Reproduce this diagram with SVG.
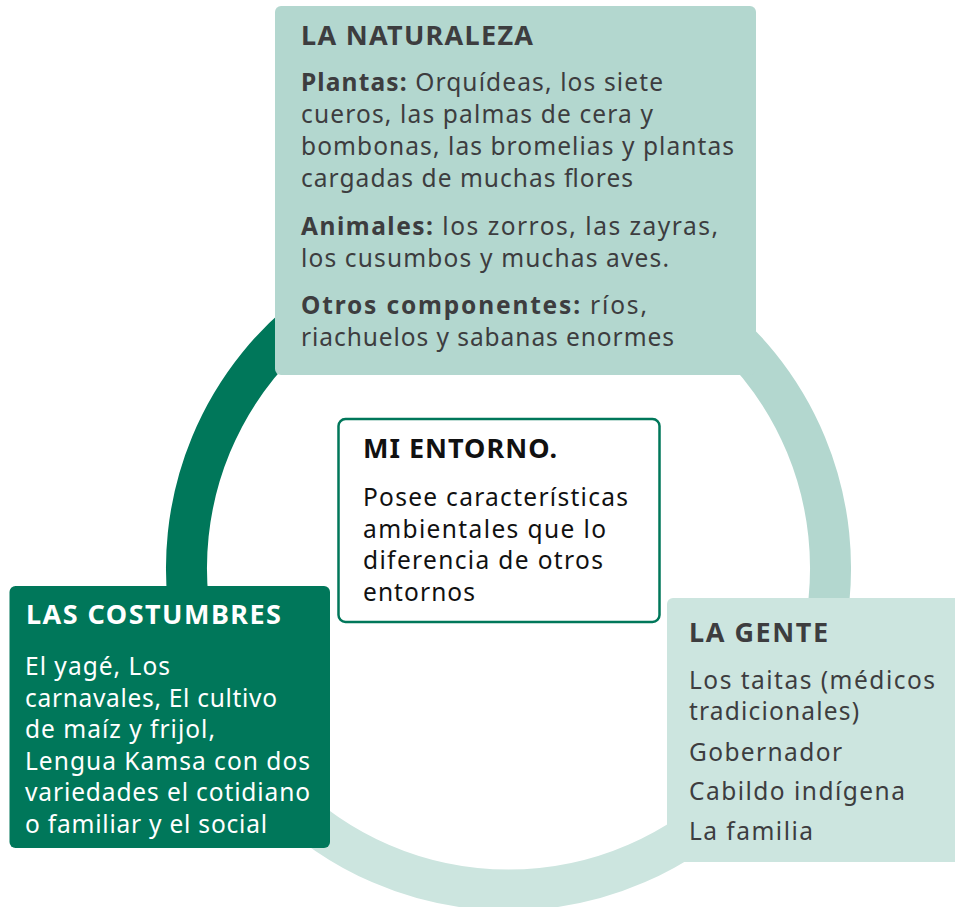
<svg xmlns="http://www.w3.org/2000/svg" width="955" height="907" viewBox="0 0 955 907">
<style>
.ring{fill:none;stroke-width:41}
.t{font-family:"Noto Sans","Open Sans","DejaVu Sans",sans-serif;font-size:24.5px}
.h{font-family:"Noto Sans","Open Sans","DejaVu Sans",sans-serif;font-size:27px;font-weight:bold}
.b{font-weight:bold}
.gray{fill:#3d3d3f}
.blk{fill:#111111}
.wht{fill:#ffffff}
</style>
<rect width="955" height="907" fill="#ffffff"/>
<g id="connectors">
<path class="ring" stroke="#b3d7cf" d="M508.5,246 A322,322 0 0 1 736.2,795.7"/>
<path class="ring" stroke="#cce5df" d="M736.2,795.7 A322,322 0 0 1 280.8,795.7"/>
<path class="ring" stroke="#00775a" d="M280.8,795.7 A322,322 0 0 1 508.5,246"/>
</g>
<g id="naturaleza">
<rect x="275" y="6" width="481" height="369" rx="6" fill="#b3d7cf"/>
<text class="h gray" x="301" y="45" textLength="232" lengthAdjust="spacing">LA NATURALEZA</text>
<text class="t gray" x="301" y="91" textLength="362" lengthAdjust="spacing"><tspan class="b">Plantas:</tspan> Orquídeas, los siete</text>
<text class="t gray" x="301" y="123" textLength="352" lengthAdjust="spacing">cueros, las palmas de cera y</text>
<text class="t gray" x="301" y="155" textLength="433" lengthAdjust="spacing">bombonas, las bromelias y plantas</text>
<text class="t gray" x="301" y="187" textLength="332" lengthAdjust="spacing">cargadas de muchas flores</text>
<text class="t gray" x="301" y="235" textLength="417" lengthAdjust="spacing"><tspan class="b">Animales:</tspan> los zorros, las zayras,</text>
<text class="t gray" x="301" y="267" textLength="368" lengthAdjust="spacing">los cusumbos y muchas aves.</text>
<text class="t gray" x="301" y="314" textLength="346" lengthAdjust="spacing"><tspan class="b">Otros componentes:</tspan> ríos,</text>
<text class="t gray" x="301" y="346" textLength="373" lengthAdjust="spacing">riachuelos y sabanas enormes</text>
</g>
<g id="entorno">
<rect x="338.5" y="419" width="321" height="203" rx="7" fill="#ffffff" stroke="#00775a" stroke-width="2.5"/>
<text class="h blk" x="363" y="458" textLength="194" lengthAdjust="spacing">MI ENTORNO.</text>
<text class="t blk" x="363" y="506" textLength="265" lengthAdjust="spacing">Posee características</text>
<text class="t blk" x="363" y="537.5" textLength="243" lengthAdjust="spacing">ambientales que lo</text>
<text class="t blk" x="363" y="569" textLength="240" lengthAdjust="spacing">diferencia de otros</text>
<text class="t blk" x="363" y="600.5" textLength="112" lengthAdjust="spacing">entornos</text>
</g>
<g id="costumbres">
<rect x="9.5" y="586" width="320.5" height="262" rx="6" fill="#00775a"/>
<text class="h wht" x="26" y="624" textLength="255" lengthAdjust="spacing">LAS COSTUMBRES</text>
<text class="t wht" x="25" y="675" textLength="145" lengthAdjust="spacing">El yagé, Los</text>
<text class="t wht" x="25" y="706.5" textLength="252" lengthAdjust="spacing">carnavales, El cultivo</text>
<text class="t wht" x="25" y="738" textLength="190" lengthAdjust="spacing">de maíz y frijol,</text>
<text class="t wht" x="25" y="769.5" textLength="285" lengthAdjust="spacing">Lengua Kamsa con dos</text>
<text class="t wht" x="25" y="801" textLength="285" lengthAdjust="spacing">variedades el cotidiano</text>
<text class="t wht" x="25" y="832.5" textLength="242" lengthAdjust="spacing">o familiar y el social</text>
</g>
<g id="gente">
<rect x="667" y="598" width="300" height="264" rx="6" fill="#cce5df"/>
<text class="h gray" x="689" y="642" textLength="139" lengthAdjust="spacing">LA GENTE</text>
<text class="t gray" x="689" y="689" textLength="246" lengthAdjust="spacing">Los taitas (médicos</text>
<text class="t gray" x="689" y="720" textLength="170" lengthAdjust="spacing">tradicionales)</text>
<text class="t gray" x="689" y="760.5" textLength="153" lengthAdjust="spacing">Gobernador</text>
<text class="t gray" x="689" y="800" textLength="216" lengthAdjust="spacing">Cabildo indígena</text>
<text class="t gray" x="689" y="840" textLength="124" lengthAdjust="spacing">La familia</text>
</g>
</svg>
